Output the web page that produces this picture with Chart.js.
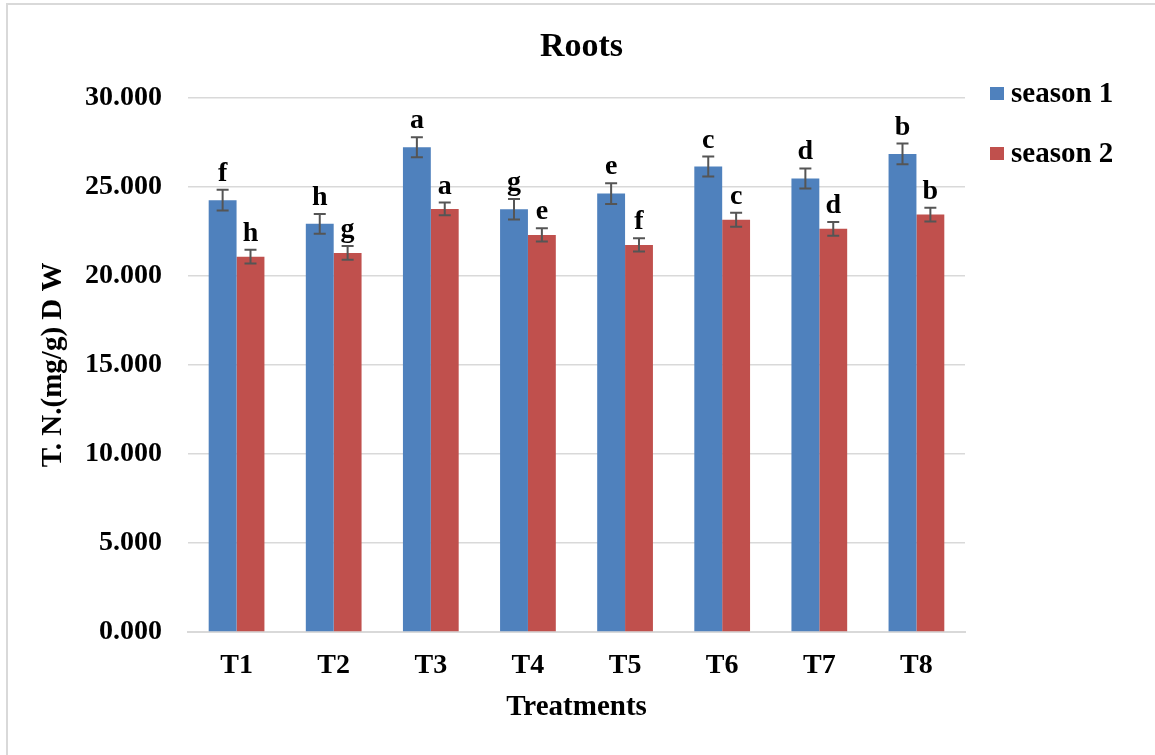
<!DOCTYPE html>
<html>
<head>
<meta charset="utf-8">
<script src="https://cdn.jsdelivr.net/npm/chart.js@4"></script>
<style>
  body { margin: 0; background: #fff; }
  canvas { display: block; }
</style>
</head>
<body>
<canvas id="rootsChart" width="1155" height="755"></canvas>
<script>
const treatments = ['T1', 'T2', 'T3', 'T4', 'T5', 'T6', 'T7', 'T8'];
const season1 = [24.25, 22.92, 27.22, 23.74, 24.62, 26.14, 25.47, 26.85];
const season2 = [21.08, 21.29, 23.76, 22.30, 21.74, 23.15, 22.64, 23.44];
const season1Err = [0.58, 0.56, 0.56, 0.58, 0.58, 0.56, 0.56, 0.58];
const season2Err = [0.38, 0.39, 0.36, 0.37, 0.37, 0.39, 0.39, 0.39];
const season1Letters = ['f', 'h', 'a', 'g', 'e', 'c', 'd', 'b'];
const season2Letters = ['h', 'g', 'a', 'e', 'f', 'c', 'd', 'b'];

const serif = 'Liberation Serif';

// error bars, letters, legend and outer frame
const extras = {
    id: 'extras',
    beforeDraw(chart) {
        const ctx = chart.ctx;
        ctx.save();
        ctx.strokeStyle = '#d9d9d9';
        ctx.lineWidth = 2;
        ctx.strokeRect(7, 4, 1170, 780);
        ctx.restore();
    },
    afterDatasetsDraw(chart) {
        const ctx = chart.ctx;
        const y = chart.scales.y;
        const errs = [season1Err, season2Err];
        const letters = [season1Letters, season2Letters];
        ctx.save();
        chart.data.datasets.forEach((ds, i) => {
            chart.getDatasetMeta(i).data.forEach((bar, j) => {
                const v = ds.data[j];
                const top = y.getPixelForValue(v + errs[i][j]);
                const bot = y.getPixelForValue(v - errs[i][j]);
                ctx.strokeStyle = '#555555';
                ctx.lineWidth = 2;
                ctx.beginPath();
                ctx.moveTo(bar.x, top);
                ctx.lineTo(bar.x, bot);
                ctx.moveTo(bar.x - 6, top);
                ctx.lineTo(bar.x + 6, top);
                ctx.moveTo(bar.x - 6, bot);
                ctx.lineTo(bar.x + 6, bot);
                ctx.stroke();

                ctx.fillStyle = '#000';
                ctx.font = 'bold 28px "' + serif + '"';
                ctx.textAlign = 'center';
                ctx.textBaseline = 'alphabetic';
                ctx.fillText(letters[i][j], bar.x, top - 9);
            });
        });
        ctx.restore();
    },
    afterDraw(chart) {
        const ctx = chart.ctx;
        ctx.save();
        ctx.font = 'bold 29px "' + serif + '"';
        ctx.textAlign = 'left';
        ctx.textBaseline = 'middle';
        chart.data.datasets.forEach((ds, i) => {
            const cy = 94 + i * 60;
            ctx.fillStyle = ds.backgroundColor;
            ctx.fillRect(990, cy - 7, 14, 13);
            ctx.fillStyle = '#000';
            ctx.fillText(ds.label, 1011, cy + 1);
        });
        ctx.restore();
    }
};

const ctx = document.getElementById('rootsChart').getContext('2d');

window.rootsChart = new Chart(ctx, {
    type: 'bar',
    data: {
        labels: treatments,
        datasets: [
            {
                label: 'season 1',
                data: season1,
                backgroundColor: '#4f81bd',
                borderWidth: 0,
                barPercentage: 1,
                categoryPercentage: 0.574
            },
            {
                label: 'season 2',
                data: season2,
                backgroundColor: '#c0504d',
                borderWidth: 0,
                barPercentage: 1,
                categoryPercentage: 0.574
            }
        ]
    },
    options: {
        responsive: false,
        animation: false,
        devicePixelRatio: 1,
        layout: {
            padding: { left: 8, right: 0, top: 0, bottom: 0 }
        },
        plugins: {
            legend: { display: false },
            tooltip: { enabled: false },
            title: {
                display: true,
                text: 'Roots',
                color: '#000',
                font: { family: serif, size: 34, weight: 'bold' },
                padding: { top: 27, bottom: 30 }
            }
        },
        scales: {
            x: {
                grid: { display: false, drawTicks: false },
                border: { display: true, color: '#d9d9d9', width: 2 },
                ticks: {
                    color: '#000',
                    padding: 17,
                    font: { family: serif, size: 28, weight: 'bold' }
                },
                title: {
                    display: true,
                    text: 'Treatments',
                    color: '#000',
                    font: { family: serif, size: 29, weight: 'bold' },
                    padding: { top: 0, bottom: 30 }
                },
                afterFit: function (scale) { scale.height = 123; }
            },
            y: {
                min: 0,
                max: 30,
                grid: { color: '#d9d9d9', lineWidth: 1.5, drawTicks: false },
                border: { display: false },
                ticks: {
                    stepSize: 5,
                    color: '#000',
                    padding: 26,
                    font: { family: serif, size: 28, weight: 'bold' },
                    callback: function (v) { return v.toFixed(3); }
                },
                title: {
                    display: true,
                    text: 'T. N.(mg/g) D W',
                    color: '#000',
                    font: { family: serif, size: 29, weight: 'bold' },
                    padding: { top: 28, bottom: 0 }
                },
                afterFit: function (scale) { scale.width = 180; }
            },
            // empty right-hand box that keeps room for the legend
            legendSpace: {
                position: 'right',
                min: 0,
                max: 30,
                grid: { display: false, drawTicks: false },
                border: { display: false },
                ticks: { display: false },
                afterFit: function (scale) { scale.width = 190; }
            }
        }
    },
    plugins: [extras]
});
</script>
</body>
</html>
